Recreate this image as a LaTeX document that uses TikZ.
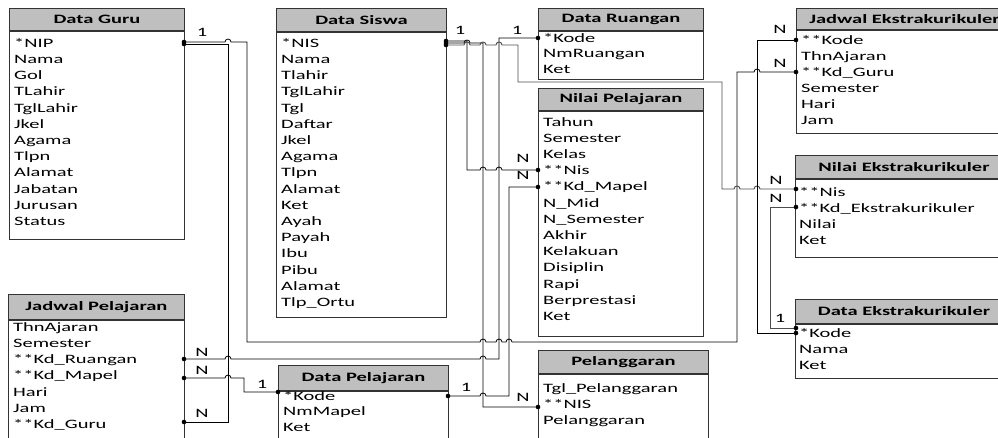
\documentclass[tikz,border=0pt]{standalone}
\usepackage{fontspec}
\setmainfont{Carlito}[FakeStretch=1.6]

\tikzset{
  hdr/.style={draw=black!80, line width=0.9pt, fill=black!25, anchor=north west, inner sep=0pt,
    font=\bfseries\fontsize{12.8}{15}\selectfont},
  tbl/.style={draw=black!80, line width=0.9pt, anchor=north west, inner sep=0pt},
  rows/.style={anchor=north west, inner sep=0pt, align=left,
    font=\fontsize{12.8}{16.2}\selectfont, execute at begin node=\rule{0pt}{10pt}},
  lbl/.style={inner sep=0pt, font=\fontsize{12.8}{15}\selectfont},
  link/.style={draw=black, line width=0.8pt},
  glink/.style={draw=black!70, line width=0.9pt},
}

\begin{document}
\begin{tikzpicture}[x=1pt, y=-1pt]
\useasboundingbox (0,0) rectangle (998,437);
\clip (0,0) rectangle (998,437);

% Data Guru
\node[hdr, minimum width=175pt, minimum height=22pt] (guru) at (9,8) {Data Guru};
\node[tbl, minimum width=175pt, minimum height=208pt] (guruT) at (guru.south west) {};
\node[rows] (guruR) at (14,38) {*NIP\\Nama\\Gol\\TLahir\\TglLahir\\Jkel\\Agama\\Tlpn\\Alamat\\Jabatan\\Jurusan\\Status};

% Data Siswa
\node[hdr, minimum width=170pt, minimum height=23pt] (siswa) at (276,8) {Data Siswa};
\node[tbl, minimum width=170pt, minimum height=285pt] (siswaT) at (siswa.south west) {};
\node[rows] (siswaR) at (281,38) {*NIS\\Nama\\Tlahir\\TglLahir\\Tgl\\Daftar\\Jkel\\Agama\\Tlpn\\Alamat\\Ket\\Ayah\\Payah\\Ibu\\Pibu\\Alamat\\Tlp\_Ortu};

% Data Ruangan
\node[hdr, minimum width=165pt, minimum height=22pt] (ruang) at (538,8) {Data Ruangan};
\node[tbl, minimum width=165pt, minimum height=48pt] (ruangT) at (ruang.south west) {};
\node[rows, font=\fontsize{12.8}{15.6}\selectfont] (ruangR) at (543,33) {*Kode\\NmRuangan\\Ket};

% Nilai Pelajaran
\node[hdr, minimum width=165pt, minimum height=22pt] (nilai) at (538,88) {Nilai Pelajaran};
\node[tbl, minimum width=165pt, minimum height=225pt] (nilaiT) at (nilai.south west) {};
\node[rows] (nilaiR) at (543,117) {Tahun\\Semester\\Kelas\\**Nis\\**Kd\_Mapel\\N\_Mid\\N\_Semester\\Akhir\\Kelakuan\\Disiplin\\Rapi\\Berprestasi\\Ket};

% Pelanggaran
\node[hdr, minimum width=170pt, minimum height=23pt] (langgar) at (538,350) {Pelanggaran};
\node[tbl, minimum width=170pt, minimum height=80pt] (langgarT) at (langgar.south west) {};
\node[rows, font=\fontsize{12.8}{16}\selectfont] (langgarR) at (543,383) {Tgl\_Pelanggaran\\**NIS\\Pelanggaran};

% Jadwal Ekstrakurikuler
\node[hdr, minimum width=216pt, minimum height=21pt] (jadEks) at (796,8) {Jadwal Ekstrakurikuler};
\node[tbl, minimum width=216pt, minimum height=103pt] (jadEksT) at (jadEks.south west) {};
\node[rows, font=\fontsize{12.8}{16}\selectfont] (jadEksR) at (801,35) {**Kode\\ThnAjaran\\**Kd\_Guru\\Semester\\Hari\\Jam};

% Nilai Ekstrakurikuler
\node[hdr, minimum width=217pt, minimum height=23pt] (nilEks) at (795,155) {Nilai Ekstrakurikuler};
\node[tbl, minimum width=217pt, minimum height=78pt] (nilEksT) at (nilEks.south west) {};
\node[rows, font=\fontsize{12.8}{16}\selectfont] (nilEksR) at (799,187) {**Nis\\**Kd\_Ekstrakurikuler\\Nilai\\Ket};

% Data Ekstrakurikuler
\node[hdr, minimum width=217pt, minimum height=24pt] (datEks) at (795,299) {Data Ekstrakurikuler};
\node[tbl, minimum width=217pt, minimum height=54pt] (datEksT) at (datEks.south west) {};
\node[rows, font=\fontsize{12.8}{16}\selectfont] (datEksR) at (799,328) {*Kode\\Nama\\Ket};

% Jadwal Pelajaran
\node[hdr, minimum width=176pt, minimum height=25pt] (jadPel) at (8,294) {Jadwal Pelajaran};
\node[tbl, minimum width=176pt, minimum height=140pt] (jadPelT) at (jadPel.south west) {};
\node[rows, font=\fontsize{12.8}{16.3}\selectfont] (jadPelR) at (13,322) {ThnAjaran\\Semester\\**Kd\_Ruangan\\**Kd\_Mapel\\Hari\\Jam\\**Kd\_Guru};

% Data Pelajaran
\node[hdr, minimum width=170pt, minimum height=25pt] (datPel) at (278,365) {Data Pelajaran};
\node[tbl, minimum width=170pt, minimum height=70pt] (datPelT) at (datPel.south west) {};
\node[rows, font=\fontsize{12.8}{15.5}\selectfont] (datPelR) at (283,391) {*Kode\\NmMapel\\Ket};

% key ends
\coordinate (guruNIPa) at (184,42);
\coordinate (guruNIPb) at (184,44);
\coordinate (siswaNISa) at (446,41);
\coordinate (siswaNISb) at (446,43);
\coordinate (siswaNISc) at (446,45);
\coordinate (ruangKode) at (538,38);
\coordinate (nilaiNis) at (538,170);
\coordinate (nilaiMapel) at (538,187);
\coordinate (langgarNIS) at (538,407);
\coordinate (jadEksKode) at (796,40);
\coordinate (jadEksGuru) at (796,72);
\coordinate (nilEksNis) at (796,189);
\coordinate (nilEksKd) at (796,207);
\coordinate (datEksKodeA) at (796,333);
\coordinate (datEksKodeB) at (796,328);
\coordinate (jadPelRuang) at (184,359);
\coordinate (jadPelMapel) at (184,378);
\coordinate (jadPelGuru) at (184,422);
\coordinate (datPelKodeL) at (278,392);
\coordinate (datPelKodeR) at (448,396);

% relations
\draw[link] (guruNIPb) -- (228,44) -- (228,422) -- (jadPelGuru);
\draw[link] (guruNIPa) -- (225,42) arc[start angle=180, end angle=360, radius=3] -- (247,42) -- (247,342)
  -- (480,342) arc[start angle=180, end angle=360, radius=3]
  -- (496,342) arc[start angle=180, end angle=360, radius=3]
  -- (506,342) arc[start angle=180, end angle=360, radius=3]
  -- (737,342) -- (737,72) -- (754,72) arc[start angle=180, end angle=360, radius=3] -- (jadEksGuru);
\draw[link] (ruangKode) -- (499,38) -- (499,359) -- (486,359) arc[start angle=0, end angle=-180, radius=3]
  -- (231,359) arc[start angle=0, end angle=-180, radius=3] -- (jadPelRuang);
\draw[link] (siswaNISa) -- (467,41) -- (467,170) -- (480,170) arc[start angle=180, end angle=360, radius=3]
  -- (496,170) arc[start angle=180, end angle=360, radius=3] -- (nilaiNis);
\draw[link] (siswaNISb) -- (464,43) arc[start angle=180, end angle=360, radius=3] -- (483,43) -- (483,407) -- (langgarNIS);
\draw[glink] (siswaNISc) -- (464,45) arc[start angle=180, end angle=360, radius=3]
  -- (480,45) arc[start angle=180, end angle=360, radius=3]
  -- (496,45) arc[start angle=180, end angle=360, radius=3]
  -- (518,45) -- (518,82) -- (722,82) -- (722,189)
  -- (734,189) arc[start angle=180, end angle=360, radius=3]
  -- (754,189) arc[start angle=180, end angle=360, radius=3] -- (nilEksNis);
\draw[link] (datPelKodeR) -- (480,396) arc[start angle=180, end angle=360, radius=3] -- (509,396) -- (509,187) -- (nilaiMapel);
\draw[link] (jadPelMapel) -- (225,378) arc[start angle=180, end angle=360, radius=3] -- (244,378) -- (244,392) -- (datPelKodeL);
\draw[link] (jadEksKode) -- (757,40) -- (757,333) -- (datEksKodeA);
\draw[glink] (nilEksKd) -- (770,207) -- (770,328) -- (datEksKodeB);

% end dots
\foreach \p in {guruNIPa,guruNIPb,siswaNISa,siswaNISb,siswaNISc,ruangKode,nilaiNis,nilaiMapel,langgarNIS,
  jadEksKode,jadEksGuru,nilEksNis,nilEksKd,datEksKodeA,datEksKodeB,jadPelRuang,jadPelMapel,jadPelGuru,
  datPelKodeL,datPelKodeR}
  \fill (\p) circle[radius=2.3pt];

% cardinalities
\node[lbl] (k1) at (202,32) {1};
\node[lbl] (k2) at (460,30) {1};
\node[lbl] (k3) at (517,30) {1};
\node[lbl] (k4) at (523,158) {N};
\node[lbl] (k5) at (523,175) {N};
\node[lbl] (k6) at (780,29) {N};
\node[lbl] (k7) at (780,63) {N};
\node[lbl] (k8) at (776,180) {N};
\node[lbl] (k9) at (776,198) {N};
\node[lbl] (k10) at (780,318) {1};
\node[lbl] (k11) at (202,352) {N};
\node[lbl] (k12) at (202,370) {N};
\node[lbl] (k13) at (202,413) {N};
\node[lbl] (k14) at (262,384) {1};
\node[lbl] (k15) at (466,387) {1};
\node[lbl] (k16) at (523,397) {N};
\end{tikzpicture}
\end{document}
